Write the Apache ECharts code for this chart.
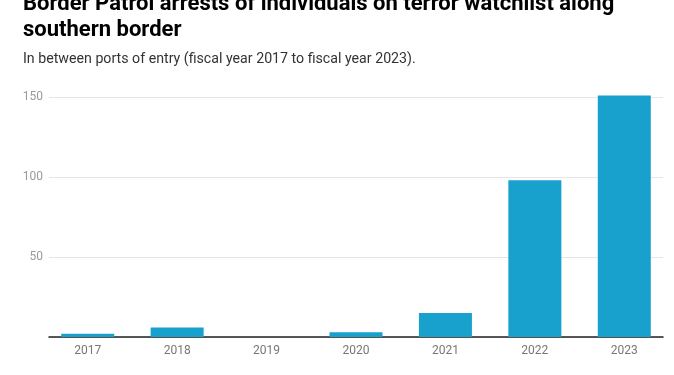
<!DOCTYPE html>
<html lang="en">
<head>
    <meta charset="UTF-8">
    <title>Border Patrol arrests - terror watchlist</title>
    <script src="https://cdn.jsdelivr.net/npm/echarts@6/dist/echarts.min.js"></script>
    <style>
        html, body { margin: 0; padding: 0; background: #fff; }
        #main { width: 674px; height: 375px; }
    </style>
</head>
<body>
<div id="main"></div>
<script type="text/javascript">
    // data
    var years = ['2017', '2018', '2019', '2020', '2021', '2022', '2023'];
    var arrests = [2, 6, 0, 3, 15, 98, 151];
    var yTicks = [0, 50, 100, 150];

    var myChart = echarts.init(document.getElementById('main'));

    var option = {
        backgroundColor: '#fff',
        animation: false,
        textStyle: { fontFamily: 'Roboto' },
        title: [{
            text: 'Border Patrol arrests of individuals on terror watchlist along\nsouthern border',
            left: 18,
            top: -14,
            textStyle: {
                fontFamily: 'Roboto',
                fontSize: 22,
                fontWeight: 'bold',
                color: '#000',
                lineHeight: 26
            }
        }, {
            text: 'In between ports of entry (fiscal year 2017 to fiscal year 2023).',
            left: 18,
            top: 47,
            textStyle: {
                fontFamily: 'Roboto',
                fontSize: 14.2,
                fontWeight: 'normal',
                color: '#333'
            }
        }],
        // grid 0: gridlines, y labels and base line; grid 1: the bars
        grid: [
            { left: 49, right: 11, top: 97, bottom: 38 },
            { left: 43, right: 5, top: 81, bottom: 38 }
        ],
        xAxis: [{
            type: 'category',
            gridIndex: 0,
            data: years,
            axisLine: { lineStyle: { color: '#222', width: 1.5 } },
            axisTick: { show: false },
            axisLabel: { show: false }
        }, {
            type: 'category',
            gridIndex: 1,
            data: years,
            axisLine: { show: false },
            axisTick: { show: false },
            axisLabel: { color: '#777', fontSize: 12, margin: 8 }
        }],
        yAxis: [{
            type: 'value',
            gridIndex: 0,
            min: yTicks[0],
            max: yTicks[yTicks.length - 1],
            interval: 50,
            axisLine: { show: false },
            axisTick: { show: false },
            axisLabel: {
                color: '#999',
                fontSize: 12,
                margin: 6,
                formatter: function (v) { return v === 0 ? '' : v; }
            },
            splitLine: { lineStyle: { color: '#e5e5e5' } }
        }, {
            type: 'value',
            gridIndex: 1,
            min: 0,
            max: 160,
            show: false
        }],
        series: [{
            type: 'bar',
            xAxisIndex: 1,
            yAxisIndex: 1,
            data: arrests,
            barWidth: 53,
            itemStyle: { color: '#18a1cd' }
        }]
    };

    myChart.setOption(option);
</script>
</body>
</html>
